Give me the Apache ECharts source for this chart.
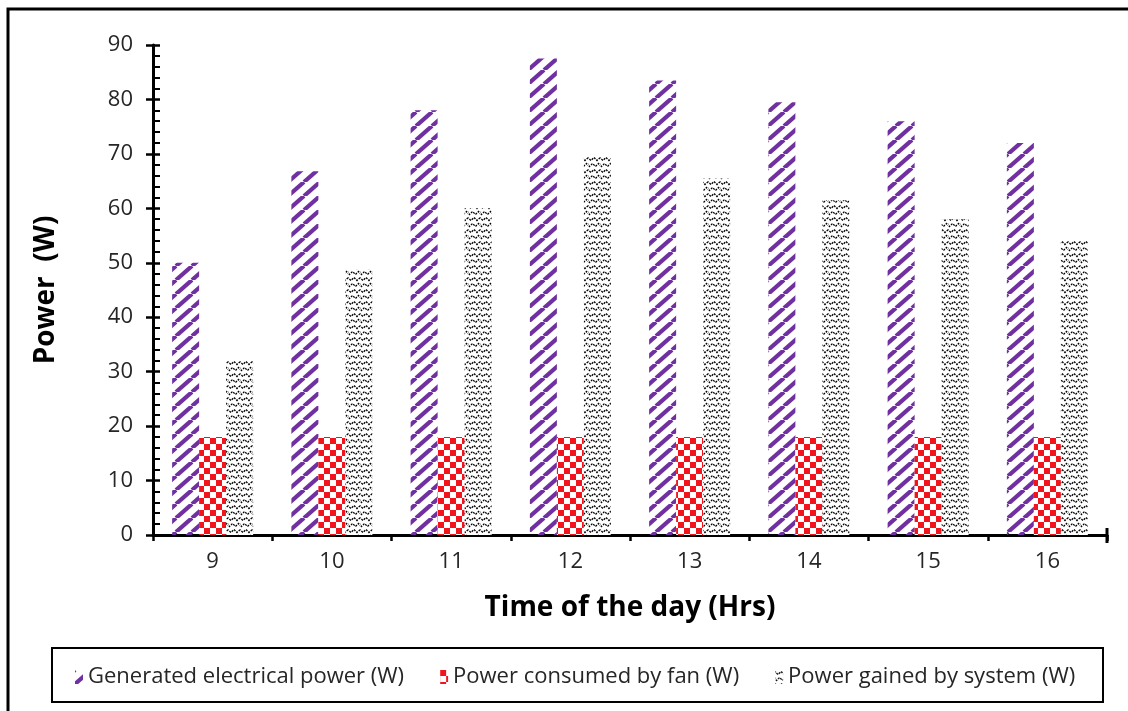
<!DOCTYPE html>
<html>
<head>
<meta charset="utf-8">
<script src="https://cdn.jsdelivr.net/npm/echarts@6/dist/echarts.min.js"></script>
<style>
html,body{margin:0;padding:0;background:#fff;}
#chart{width:1128px;height:711px;}
</style>
</head>
<body>
<div id="chart"></div>
<script>
const categories = ['9', '10', '11', '12', '13', '14', '15', '16'];
const generatedPower = [50, 66.8, 78, 87.5, 83.5, 79.5, 76, 72];
const fanPower = [18, 18, 18, 18, 18, 18, 18, 18];
const gainedPower = [32, 48.8, 60, 69.5, 65.5, 61.5, 58, 54];
const seriesNames = ['Generated electrical power (W)', 'Power consumed by fan (W)', 'Power gained by system (W)'];
const yMin = 0, yMax = 90, yInterval = 10;

const FONT = '"Open Sans", "Noto Sans", sans-serif';
const PURPLE = '#7030A0';
const RED = '#F2141C';

function stripePattern() {
  const w = 16, h = 14;
  const c = document.createElement('canvas');
  c.width = w; c.height = h;
  const ctx = c.getContext('2d');
  ctx.strokeStyle = PURPLE;
  ctx.lineWidth = 4.2;
  [[0, 0], [-w, 0], [w, 0]].forEach(([dx, dy]) => {
    ctx.beginPath();
    ctx.moveTo(dx, h + dy);
    ctx.lineTo(w + dx, dy);
    ctx.stroke();
  });
  return { image: c, repeat: 'repeat' };
}
function checkerPattern() {
  const s = 6;
  const c = document.createElement('canvas');
  c.width = 2 * s; c.height = 2 * s;
  const ctx = c.getContext('2d');
  ctx.fillStyle = '#fff';
  ctx.fillRect(0, 0, 2 * s, 2 * s);
  ctx.fillStyle = RED;
  ctx.fillRect(0, 0, s, s);
  ctx.fillRect(s, s, s, s);
  return { image: c, repeat: 'repeat' };
}
function wavePattern() {
  const w = 12, h = 12;
  const c = document.createElement('canvas');
  c.width = w; c.height = h;
  const ctx = c.getContext('2d');
  ctx.fillStyle = '#fff';
  ctx.fillRect(0, 0, w, h);
  ctx.strokeStyle = '#000';
  ctx.lineWidth = 1.3;
  ctx.setLineDash([2, 1.2]);
  ctx.beginPath();
  ctx.moveTo(-1, 1); ctx.lineTo(3, 4.5); ctx.lineTo(6, 1.5); ctx.lineTo(9, 4.5); ctx.lineTo(13, 1);
  ctx.stroke();
  ctx.beginPath();
  ctx.moveTo(-1, 7); ctx.lineTo(1.5, 10.5); ctx.lineTo(4.5, 7.5); ctx.lineTo(7.5, 10.5); ctx.lineTo(10.5, 7.5); ctx.lineTo(13, 10.5);
  ctx.stroke();
  return { image: c, repeat: 'repeat' };
}

const patterns = [stripePattern(), checkerPattern(), wavePattern()];
const values = [generatedPower, fanPower, gainedPower];

const chart = echarts.init(document.getElementById('chart'), null, { renderer: 'canvas' });

const grid = { left: 153, right: 21, top: 45, bottom: 176 };

chart.setOption({
  animation: false,
  backgroundColor: '#fff',
  textStyle: { fontFamily: FONT },
  grid: grid,
  legend: {
    data: seriesNames,
    top: 661,
    left: 70,
    itemWidth: 8,
    itemHeight: 14,
    itemGap: 36,
    icon: 'rect',
    textStyle: { fontFamily: FONT, fontSize: 22, color: '#262626' }
  },
  xAxis: [{
    type: 'category',
    data: categories,
    position: 'bottom',
    axisLine: { lineStyle: { color: '#000', width: 3 } },
    axisTick: { show: true, inside: false, length: 6, lineStyle: { color: '#000', width: 2.5 } },
    axisLabel: { fontFamily: FONT, fontSize: 22, color: '#262626', margin: 16 },
    name: 'Time of the day (Hrs)',
    nameLocation: 'middle',
    nameGap: 59,
    nameTextStyle: { fontFamily: FONT, fontSize: 28, fontWeight: 'bold', color: '#000' }
  }, {
    type: 'category',
    data: categories,
    position: 'bottom',
    axisLine: { show: false },
    axisTick: { show: true, inside: true, alignWithLabel: true, length: 6, lineStyle: { color: '#000', width: 2.5 } },
    axisLabel: { show: false }
  }],
  yAxis: [{
    type: 'value',
    min: yMin, max: yMax, interval: yInterval,
    axisLine: { show: true, lineStyle: { color: '#000', width: 3 } },
    axisTick: { show: true, inside: false, length: 7, lineStyle: { color: '#000', width: 2.5 } },
    splitLine: { show: false },
    axisLabel: { fontFamily: FONT, fontSize: 22, color: '#262626', margin: 20 },
    name: 'Power  (W)',
    nameLocation: 'middle',
    nameGap: 93,
    nameTextStyle: { fontFamily: FONT, fontSize: 28, fontWeight: 'bold', color: '#000' }
  }, {
    type: 'value',
    position: 'left',
    min: yMin, max: yMax, interval: yInterval,
    axisLine: { show: false },
    axisTick: { show: true, inside: true, length: 7, lineStyle: { color: '#000', width: 2.5 } },
    minorTick: { show: true, splitNumber: 5, length: 7, lineStyle: { color: '#000', width: 2 } },
    splitLine: { show: false },
    axisLabel: { show: false }
  }],
  series: seriesNames.map((name, i) => ({
    name: name,
    type: 'bar',
    data: values[i],
    xAxisIndex: 0,
    yAxisIndex: 0,
    barWidth: 27,
    barGap: '0%',
    itemStyle: { color: patterns[i] }
  })),
  graphic: [
    { type: 'rect', silent: true, shape: { x: 8, y: 9, width: 1300, height: 900 }, style: { fill: 'none', stroke: '#000', lineWidth: 3 } },
    { type: 'rect', silent: true, shape: { x: 52, y: 648, width: 1051, height: 54 }, style: { fill: 'none', stroke: '#000', lineWidth: 2 } },
    { type: 'line', silent: true, shape: { x1: 1107, y1: 528, x2: 1107, y2: 543 }, style: { stroke: '#000', lineWidth: 3 } }
  ]
});
</script>
</body>
</html>
